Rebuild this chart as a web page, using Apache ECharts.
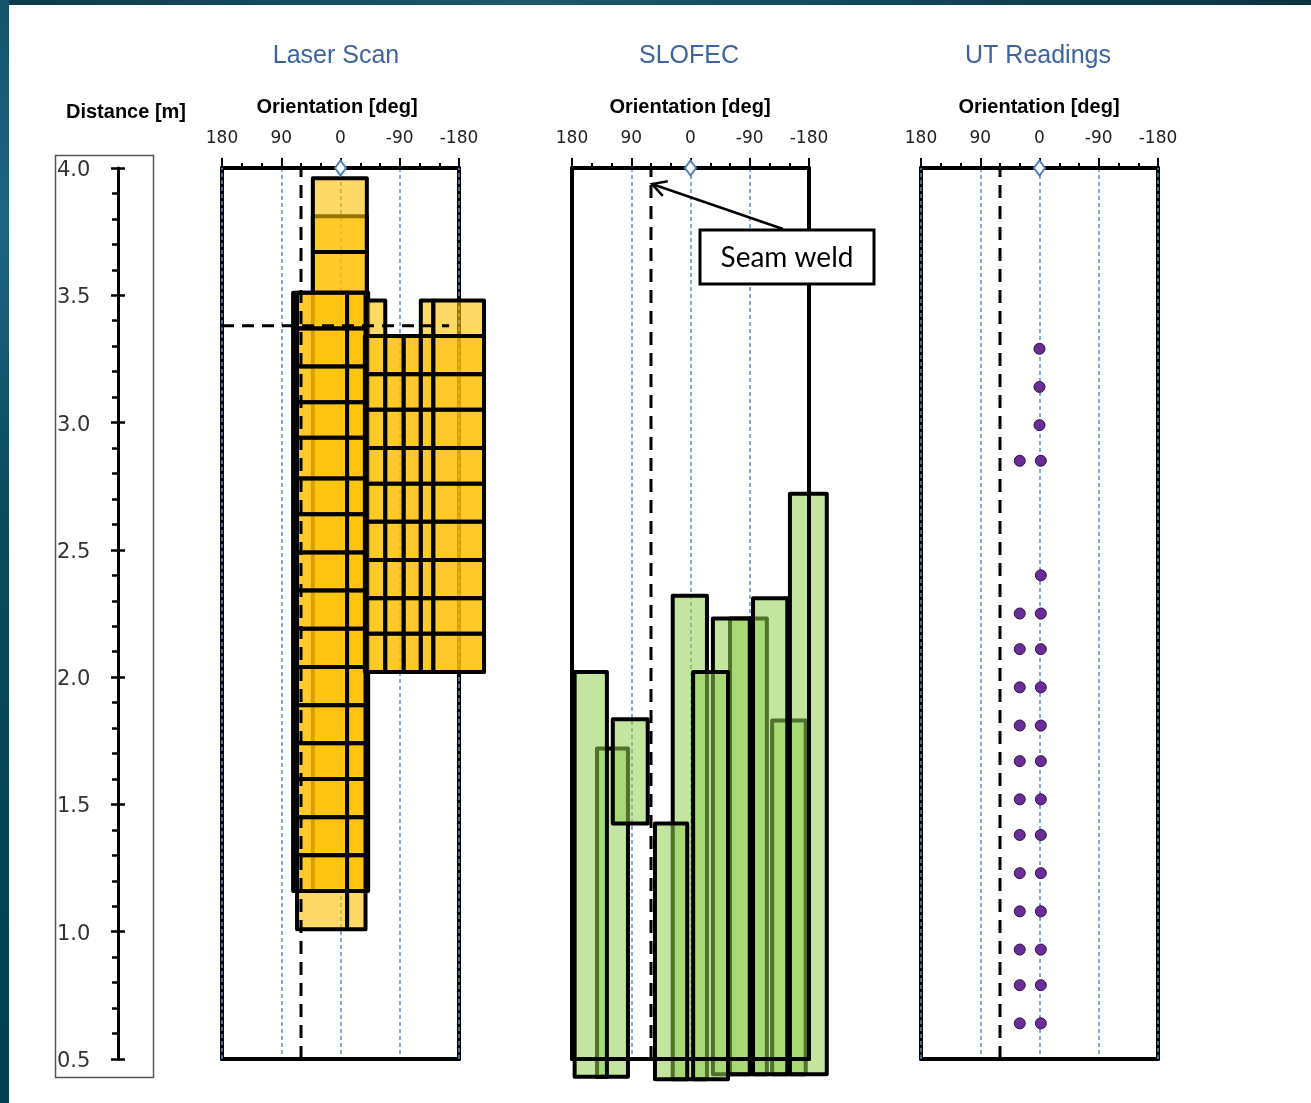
<!DOCTYPE html>
<html>
<head>
<meta charset="utf-8">
<title>Laser Scan / SLOFEC / UT Readings</title>
<script src="https://cdn.jsdelivr.net/npm/echarts@6/dist/echarts.min.js"></script>
<style>
  html, body { margin: 0; padding: 0; background: #ffffff; }
  #chart { width: 1311px; height: 1103px; }
</style>
</head>
<body>
<div id="chart"></div>
<script>
// ---- Axes ----
const distanceMin = 0.5;
const distanceMax = 4.0;
const distanceStep = 0.5;
const orientationMin = -180;
const orientationMax = 180;
const orientationStep = 90;
const panelTitles = ['Laser Scan', 'SLOFEC', 'UT Readings'];
const seamWeldDeg = 60;

// ---- Laser scan boxes: [orientation from, orientation to, distance top, distance bottom] ----
const laserUnderlay = [
  [42, -40, 3.81, 1.16],
  [72, -42, 3.51, 1.16],
  [42, -40, 3.96, 3.67],
  [42, -40, 3.67, 3.51]
];
// left column: row boundaries (m) and column edges (deg)
const laserLeftRows = [3.51, 3.37, 3.22, 3.08, 2.94, 2.78, 2.64, 2.49, 2.34, 2.19, 2.04, 1.89, 1.74, 1.60, 1.45, 1.30, 1.16, 1.01];
const laserLeftCols = [66, -10, -38];
// right block
const laserRightBase = [[-37, -218, 3.34, 2.02]];
const laserRightRows = [3.48, 3.34, 3.19, 3.05, 2.90, 2.76, 2.61, 2.46, 2.31, 2.17, 2.02];
const laserRightCols = [-40, -68, -96, -122, -141, -218];
const laserRightColTops = [3.48, 3.34, 3.34, 3.48, 3.48];
// horizontal reference mark
const laserMarkDistance = 3.38;
const laserMarkFrom = 180;
const laserMarkTo = -165;

// ---- SLOFEC indications (draw order) ----
const slofecFrom   = [142, 176, 118, 27, 54, -60, -34, -4, -124, -95, -151];
const slofecTo     = [95, 127, 65, -25, 5, -116, -90, -57, -175, -147, -207];
const slofecTop    = [1.72, 2.02, 1.835, 2.32, 1.425, 2.23, 2.23, 2.02, 1.83, 2.31, 2.72];
const slofecBottom = [0.43, 0.43, 1.425, 0.42, 0.42, 0.44, 0.44, 0.42, 0.44, 0.44, 0.44];

// ---- UT readings ----
const utOrientation = [0, 0, 0, -2, 30, -2, -2, 30, -2, 30, -2, 30, -2, 30, -2, 30, -2, 30, -2, 30, -2, 30, -2, 30, -2, 30, -2, 30, -2, 30];
const utDistance    = [3.29, 3.14, 2.99, 2.85, 2.85, 2.40, 2.25, 2.25, 2.11, 2.11, 1.96, 1.96, 1.81, 1.81, 1.67, 1.67, 1.52, 1.52, 1.38, 1.38, 1.23, 1.23, 1.08, 1.08, 0.93, 0.93, 0.79, 0.79, 0.64, 0.64];

// ---------------------------------------------------------------
const chart = echarts.init(document.getElementById('chart'), null, { renderer: 'canvas', width: 1311, height: 1103 });

const PANEL_LEFT = [222, 572, 921];
const PANEL_W = 237;
const PLOT_TOP = 168;
const PLOT_H = 891;
const LABEL_FONT = 'DejaVu Sans';
const BOLD_FONT = 'Liberation Sans';
const GRID_BLUE = '#5B8FCC';

const grids = [{ left: 118, top: PLOT_TOP, width: 1, height: PLOT_H }];
PANEL_LEFT.forEach(l => grids.push({ left: l, top: PLOT_TOP, width: PANEL_W, height: PLOT_H }));

const xAxes = [];
const yAxes = [];
const blackLine = w => ({ show: true, onZero: false, lineStyle: { color: '#000', width: w } });

// distance scale
xAxes.push({ gridIndex: 0, type: 'value', show: false, min: 0, max: 1 });
yAxes.push({
  gridIndex: 0, type: 'value', min: distanceMin, max: distanceMax, interval: distanceStep, position: 'left',
  axisLine: blackLine(3),
  axisTick: { show: true, length: 7, lineStyle: { color: '#000', width: 2.5 } },
  minorTick: { show: true, splitNumber: 5, length: 6, lineStyle: { color: '#000', width: 2.5 } },
  axisLabel: {
    show: true, align: 'left', verticalAlign: 'top', margin: 61, fontFamily: LABEL_FONT, fontSize: 21, color: '#333',
    lineHeight: 21, padding: [-8, 0, 0, 0],
    formatter: v => v.toFixed(1)
  },
  splitLine: { show: false }, minorSplitLine: { show: false }
});
yAxes.push({
  gridIndex: 0, type: 'value', min: distanceMin, max: distanceMax, interval: distanceStep, position: 'left',
  axisLine: { show: false },
  axisTick: { show: true, inside: true, length: 7, lineStyle: { color: '#000', width: 2.5 } },
  axisLabel: { show: false }, splitLine: { show: false }
});

// three orientation panels; the SLOFEC bars sit under their frame, the laser boxes over it
const panelAxes = [];
for (let p = 0; p < 3; p++) {
  const g = p + 1;
  const xi = xAxes.length;
  xAxes.push({
    gridIndex: g, type: 'value', min: orientationMin, max: orientationMax, interval: orientationStep,
    inverse: true, position: 'top', z: 2,
    axisLine: blackLine(4),
    axisTick: { show: true, length: 10, lineStyle: { color: '#000', width: 2 } },
    minorTick: { show: true, splitNumber: 3, length: 5, lineStyle: { color: '#000', width: 2 } },
    axisLabel: { show: true, margin: 21, fontFamily: LABEL_FONT, fontSize: 17, color: '#222', formatter: v => String(v) },
    splitLine: { show: true, showMinLine: true, showMaxLine: true, lineStyle: { color: GRID_BLUE, width: 1.5, type: [4, 3] } },
    minorSplitLine: { show: false }
  });
  xAxes.push({
    gridIndex: g, type: 'value', min: orientationMin, max: orientationMax, inverse: true, position: 'bottom', z: 3,
    axisLine: blackLine(4), axisTick: { show: false }, axisLabel: { show: false }, splitLine: { show: false }
  });
  const yi = yAxes.length;
  ['left', 'right'].forEach(pos => yAxes.push({
    gridIndex: g, type: 'value', min: distanceMin, max: distanceMax, position: pos, z: 3,
    axisLine: blackLine(4), axisTick: { show: false }, axisLabel: { show: false }, splitLine: { show: false }
  }));
  panelAxes.push({ x: xi, y: yi });
}

// ---- box lists built from the boundaries ----
const laserBoxes = laserUnderlay.slice();
for (let i = 0; i < laserLeftRows.length - 1; i++) {
  for (let j = 0; j < laserLeftCols.length - 1; j++) {
    laserBoxes.push([laserLeftCols[j], laserLeftCols[j + 1], laserLeftRows[i], laserLeftRows[i + 1]]);
  }
}
laserRightBase.forEach(b => laserBoxes.push(b));
for (let i = 0; i < laserRightRows.length - 1; i++) {
  for (let j = 0; j < laserRightCols.length - 1; j++) {
    if (laserRightRows[i] <= laserRightColTops[j] + 1e-9) {
      laserBoxes.push([laserRightCols[j], laserRightCols[j + 1], laserRightRows[i], laserRightRows[i + 1]]);
    }
  }
}
const slofecBoxes = slofecFrom.map((f, i) => [f, slofecTo[i], slofecTop[i], slofecBottom[i]]);
const utPoints = utOrientation.map((o, i) => [o, utDistance[i]]);

function boxSeries(panel, boxes, fill, z) {
  return {
    type: 'custom', xAxisIndex: panelAxes[panel].x, yAxisIndex: panelAxes[panel].y,
    z: z, clip: false, silent: true, animation: false,
    data: boxes,
    renderItem: (params, api) => {
      const a = api.coord([api.value(0), api.value(2)]);
      const b = api.coord([api.value(1), api.value(3)]);
      return {
        type: 'rect',
        shape: { x: Math.min(a[0], b[0]), y: Math.min(a[1], b[1]), width: Math.abs(b[0] - a[0]), height: Math.abs(b[1] - a[1]) },
        style: { fill: fill, stroke: '#000', lineWidth: 4, lineJoin: 'round' }
      };
    }
  };
}

function dashedLine(panel, pts, dash, color, width, z) {
  return {
    type: 'line', xAxisIndex: panelAxes[panel].x, yAxisIndex: panelAxes[panel].y,
    z: z, silent: true, symbol: 'none', animation: false, clip: false,
    data: pts,
    lineStyle: { color: color, width: width, type: dash, cap: 'butt' }
  };
}

function originMarker(panel) {
  return {
    type: 'scatter', xAxisIndex: panelAxes[panel].x, yAxisIndex: panelAxes[panel].y,
    z: 7, clip: false, silent: true, animation: false,
    symbol: 'emptyDiamond', symbolSize: [11, 15],
    itemStyle: { color: '#4F81BD', borderColor: '#4F81BD', borderWidth: 1.5, opacity: 1 },
    data: [[0, distanceMax]]
  };
}

const seamPts = [[seamWeldDeg, distanceMin], [seamWeldDeg, distanceMax]];
const edgePts = v => [[v, distanceMin], [v, distanceMax]];

const series = [
  // blue gridline traces over the black side frames
  dashedLine(0, edgePts(orientationMax), [4, 3], GRID_BLUE, 1.5, 3.5),
  dashedLine(0, edgePts(orientationMin), [4, 3], GRID_BLUE, 1.5, 3.5),
  dashedLine(2, edgePts(orientationMax), [4, 3], GRID_BLUE, 1.5, 3.5),
  dashedLine(2, edgePts(orientationMin), [4, 3], GRID_BLUE, 1.5, 3.5),
  boxSeries(0, laserBoxes, 'rgba(255,192,0,0.6)', 4),
  dashedLine(0, seamPts, [13, 8], '#000', 3, 5),
  dashedLine(0, [[laserMarkFrom, laserMarkDistance], [laserMarkTo, laserMarkDistance]], [12, 8], '#000', 3, 5),
  boxSeries(1, slofecBoxes, 'rgba(146,208,80,0.55)', 2.5),
  dashedLine(1, seamPts, [13, 8], '#000', 3, 5),
  dashedLine(2, seamPts, [13, 8], '#000', 3, 5),
  {
    type: 'scatter', xAxisIndex: panelAxes[2].x, yAxisIndex: panelAxes[2].y,
    z: 7, silent: true, animation: false, symbol: 'circle', symbolSize: 11,
    itemStyle: { color: '#6A2C96', borderColor: '#2e1045', borderWidth: 1, opacity: 1 },
    data: utPoints
  },
  originMarker(0), originMarker(1), originMarker(2)
];

// ---- text and decoration ----
const titleCenters = [336, 689, 1038];
const graphic = [
  // slide frame bands
  { type: 'rect', shape: { x: 0, y: 0, width: 1311, height: 5 }, silent: true,
    style: { fill: new echarts.graphic.LinearGradient(0, 0, 1, 0, [
      { offset: 0, color: '#0c3a4b' }, { offset: 0.4, color: '#1c5a6e' }, { offset: 0.75, color: '#0f4254' }, { offset: 1, color: '#0b3341' }]) } },
  { type: 'rect', shape: { x: 0, y: 0, width: 9, height: 1103 }, silent: true,
    style: { fill: new echarts.graphic.LinearGradient(0, 0, 0, 1, [
      { offset: 0, color: '#15536a' }, { offset: 0.2, color: '#1f6681' }, { offset: 0.45, color: '#0c4a5e' }, { offset: 1, color: '#00404f' }]) } },
  // distance scale frame
  { type: 'rect', shape: { x: 55.5, y: 155.5, width: 98, height: 922 }, silent: true,
    style: { fill: 'none', stroke: '#555', lineWidth: 1.5 } },
  { type: 'text', x: 126, y: 112, silent: true,
    style: { text: 'Distance [m]', align: 'center', verticalAlign: 'middle', fontFamily: BOLD_FONT, fontWeight: 'bold', fontSize: 20, fill: '#000' } }
];
panelTitles.forEach((t, i) => {
  graphic.push({ type: 'text', x: titleCenters[i], y: 56, silent: true,
    style: { text: t, align: 'center', verticalAlign: 'middle', fontFamily: 'Liberation Sans', fontSize: 25, fill: '#3D64A0' } });
  graphic.push({ type: 'text', x: titleCenters[i] + 1, y: 107, silent: true,
    style: { text: 'Orientation [deg]', align: 'center', verticalAlign: 'middle', fontFamily: BOLD_FONT, fontWeight: 'bold', fontSize: 20, fill: '#000' } });
});

// seam weld callout
const tip = [652, 184];
const tail = [783, 229];
const ang = Math.atan2(tail[1] - tip[1], tail[0] - tip[0]);
const armLen = 16, armAng = 0.5;
graphic.push(
  { type: 'line', silent: true, z: 200, shape: { x1: tail[0], y1: tail[1], x2: tip[0], y2: tip[1] },
    style: { stroke: '#000', lineWidth: 2.5 } },
  { type: 'polyline', silent: true, z: 200, shape: { points: [
      [tip[0] + armLen * Math.cos(ang - armAng), tip[1] + armLen * Math.sin(ang - armAng)],
      tip,
      [tip[0] + armLen * Math.cos(ang + armAng), tip[1] + armLen * Math.sin(ang + armAng)]] },
    style: { stroke: '#000', lineWidth: 2.5, fill: 'none' } },
  { type: 'rect', silent: true, z: 201, shape: { x: 700, y: 230, width: 174, height: 54 },
    style: { fill: '#ffffff', stroke: '#000', lineWidth: 3 } },
  { type: 'text', silent: true, z: 202, x: 787, y: 258,
    style: { text: 'Seam weld', align: 'center', verticalAlign: 'middle', fontFamily: 'Lato', fontSize: 28, fill: '#000' } }
);

chart.setOption({
  animation: false,
  backgroundColor: '#ffffff',
  grid: grids,
  xAxis: xAxes,
  yAxis: yAxes,
  series: series,
  graphic: graphic
});
</script>
</body>
</html>
